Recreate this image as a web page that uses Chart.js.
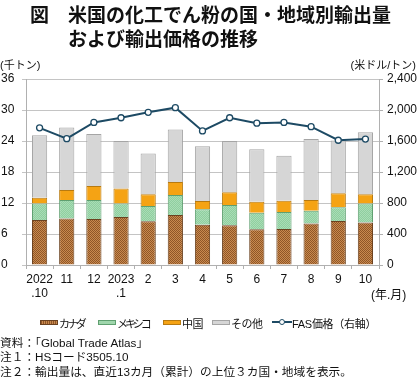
<!DOCTYPE html>
<html><head><meta charset="utf-8">
<script src="https://cdn.jsdelivr.net/npm/chart.js@4/dist/chart.umd.min.js"></script>
<style>
html,body{margin:0;padding:0;background:#fff;}
#wrap{position:relative;width:420px;height:381px;overflow:hidden;font-family:"Liberation Sans","Noto Sans CJK JP",sans-serif;color:#111;}
#c{position:absolute;left:0;top:0;}
.t{position:absolute;white-space:nowrap;}
.title{font-family:"Noto Sans CJK JP",sans-serif;font-size:19px;font-weight:bold;line-height:19px;}
.sm{font-size:11px;line-height:12px;}
.note{font-size:11.7px;line-height:14px;}
.sw{position:absolute;width:18px;height:5px;box-sizing:border-box;}
</style></head><body>
<div id="wrap">
<canvas id="c" width="420" height="381"></canvas>
<div class="t title" style="left:30px;top:4px;">図</div>
<div class="t title" style="left:68px;top:4px;">米国の化工でん粉の国・地域別輸出量</div>
<div class="t title" style="left:68px;top:28px;">および輸出価格の推移</div>
<div class="t sm" style="left:0px;top:59px;">(千トン)</div>
<div class="t sm" style="right:4px;top:59px;">(米ドル/トン)</div>
<div class="t" style="left:371px;top:285px;font-size:12px;">(年.月)</div>
<div id="legend"></div>
<div class="t note" style="left:0;top:336px;">資料：「Global Trade Atlas」</div>
<div class="t note" style="left:0;top:350px;">注１：HSコード3505.10</div>
<div class="t note" style="left:0;top:365px;">注２：輸出量は、直近13カ月（累計）の上位３カ国・地域を表示。</div>
</div>
<script>
const categories = [["2022",".10"],"11","12",["2023",".1"],"2","3","4","5","6","7","8","9","10"];
const canada = [8.7, 9.0, 8.9, 9.3, 8.45, 9.7, 7.8, 7.7, 6.9, 6.95, 8.05, 8.5, 8.25];
const mexico = [3.2, 3.6, 3.7, 2.6, 2.95, 3.85, 3.0, 3.9, 3.2, 3.3, 2.45, 2.7, 3.65];
const china  = [1.1, 1.9, 2.7, 2.9, 2.3, 2.5, 1.6, 2.5, 2.15, 2.2, 2.1, 2.7, 1.8];
const others = [12.1, 12.1, 10.05, 9.2, 7.9, 10.2, 10.6, 9.9, 10.15, 8.7, 11.8, 10.2, 12.0];
const fasPrice = [1770, 1630, 1840, 1900, 1970, 2030, 1730, 1900, 1830, 1840, 1785, 1610, 1625];
const leftTicks = [0, 6, 12, 18, 24, 30, 36];
const rightTicks = [0, 400, 800, 1200, 1600, 2000, 2400];

function makePattern(base, dot){
  const p = document.createElement('canvas'); p.width = 2; p.height = 2;
  const g = p.getContext('2d');
  g.fillStyle = base; g.fillRect(0,0,2,2);
  g.fillStyle = dot; g.fillRect(0,0,1,1); g.fillRect(1,1,1,1);
  return document.getElementById('c').getContext('2d').createPattern(p,'repeat');
}
const canadaFill = makePattern('#c98a4e', '#8f5628');
const mexicoFill = makePattern('#8fcf9f', '#a9dcb6');

const legendItems = [
  {x:40, label:'カナダ', ls:-2.6, css:'background:repeating-linear-gradient(90deg,#8f5628 0 1px,#c98a4e 1px 2px);border:1px solid #6b4220;'},
  {x:98, label:'メキシコ', ls:-3.1, css:'background:#9fd6ac;border:1px solid #5f9f70;'},
  {x:163, label:'中国', ls:-0.5, css:'background:#f5a314;border:1px solid #b87a10;'},
  {x:212, label:'その他', ls:-0.5, css:'background:#d6d6d6;border:1px solid #a5a5a5;'}
];
const lg = document.getElementById('legend');
legendItems.forEach(it=>{
  const s = document.createElement('div'); s.className='sw'; s.style.cssText = it.css + 'left:'+it.x+'px;top:320px;';
  lg.appendChild(s);
  const t = document.createElement('div'); t.className='t';
  t.style.cssText='left:'+(it.x+19)+'px;top:315px;font-size:11px;letter-spacing:'+it.ls+'px;'; t.textContent = it.label;
  lg.appendChild(t);
});
(function(){
  const l = document.createElement('div'); l.style.cssText='position:absolute;left:272px;top:321px;width:20px;height:2px;background:#1d4a64;';
  lg.appendChild(l);
  const c = document.createElement('div'); c.style.cssText='position:absolute;left:279px;top:319px;width:6px;height:6px;border-radius:50%;background:#fff;border:1.3px solid #1d4a64;box-sizing:border-box;';
  lg.appendChild(c);
  const t = document.createElement('div'); t.className='t'; t.style.cssText='left:292px;top:315px;font-size:11px;letter-spacing:-0.3px;'; t.textContent='FAS価格（右軸）';
  lg.appendChild(t);
})();

const gridCol = '#c4c4c4', axisCol = '#b0b0b0';
new Chart(document.getElementById('c'), {
  data: {
    labels: categories,
    datasets: [
      {type:'line', label:'FAS価格(右軸)', data:fasPrice, yAxisID:'y1', order:0,
       borderColor:'#1d4a64', borderWidth:2, pointRadius:3, pointBackgroundColor:'#fff',
       pointBorderColor:'#1d4a64', pointBorderWidth:1.3, tension:0},
      {type:'bar', label:'カナダ', data:canada, backgroundColor:canadaFill, borderColor:'#6b4220', borderWidth:1, yAxisID:'y', order:1},
      {type:'bar', label:'メキシコ', data:mexico, backgroundColor:mexicoFill, borderColor:'#5f9f70', borderWidth:1, yAxisID:'y', order:1},
      {type:'bar', label:'中国', data:china, backgroundColor:'#f5a314', borderColor:'#b87a10', borderWidth:1, yAxisID:'y', order:1},
      {type:'bar', label:'その他', data:others, backgroundColor:'#d6d6d6', borderColor:'#a5a5a5', borderWidth:1, yAxisID:'y', order:1}
    ]
  },
  options: {
    responsive:false, animation:false, devicePixelRatio:1,
    layout:{padding:{top:79, left:1, right:0, bottom:0}},
    datasets:{bar:{barPercentage:0.56, categoryPercentage:1}},
    plugins:{legend:{display:false}, tooltip:{enabled:false}},
    scales:{
      x:{stacked:true, offset:true,
         grid:{offset:true, drawOnChartArea:false, tickLength:4, color:axisCol},
         border:{color:axisCol},
         ticks:{color:'#111', font:{family:'Liberation Sans', size:12}, padding:3, maxRotation:0, autoSkip:false},
         afterFit:s=>{s.height=116;}},
      y:{stacked:true, position:'left', min:0, max:36,
         afterBuildTicks:s=>{s.ticks = leftTicks.map(v=>({value:v}));},
         grid:{color:gridCol, tickLength:4},
         border:{color:axisCol},
         ticks:{color:'#111', font:{family:'Liberation Sans', size:12}, crossAlign:'far', padding:3},
         afterFit:s=>{s.width=25;}},
      y1:{position:'right', min:0, max:2400,
         afterBuildTicks:s=>{s.ticks = rightTicks.map(v=>({value:v}));},
         grid:{drawOnChartArea:false, tickLength:4, color:axisCol},
         border:{color:axisCol},
         ticks:{color:'#111', font:{family:'Liberation Sans', size:12}, padding:4,
                callback:v=>v.toLocaleString('en-US')},
         afterFit:s=>{s.width=41;}}
    }
  }
});
</script>
</body></html>
